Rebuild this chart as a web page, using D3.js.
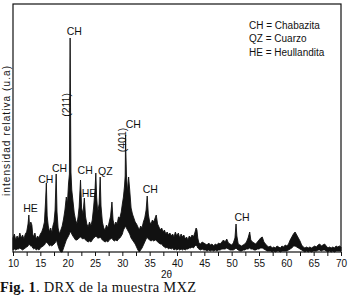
<!DOCTYPE html>
<html>
<head>
<meta charset="utf-8">
<script src="https://cdn.jsdelivr.net/npm/d3@7"></script>
<style>
  body { margin: 0; background: #fff; }
  svg { display: block; }
  .lbl { font-family: "Liberation Sans", Arial, sans-serif; font-size: 10.5px; fill: #111; }
  .tick-lbl { font-family: "Liberation Sans", Arial, sans-serif; font-size: 10px; fill: #111; }
  .cap { font-family: "Liberation Serif", "Times New Roman", serif; font-size: 14.5px; fill: #111; }
</style>
</head>
<body>
<svg id="chart"></svg>
<script>
// ── Data: XRD pattern (2θ, upper / lower edge of noisy trace) ──
const twoTheta = [
  10.0, 10.25, 10.5, 10.75, 11.0, 11.25, 11.5, 11.75, 12.0, 12.25, 12.5, 12.75, 12.9, 13.05, 13.25, 13.45,
  13.6, 13.8, 14.0, 14.25, 14.5, 14.75, 15.0, 15.25, 15.5, 15.75, 15.95, 16.1, 16.25, 16.45, 16.7, 16.9,
  17.1, 17.3, 17.5, 17.7, 17.9, 18.05, 18.25, 18.5, 18.75, 19.0, 19.25, 19.5, 19.75, 19.95, 20.15, 20.32,
  20.42, 20.45, 20.48, 20.6, 20.75, 20.95, 21.2, 21.45, 21.7, 21.9, 22.1, 22.35, 22.55, 22.8, 23.05, 23.25,
  23.5, 23.75, 24.0, 24.25, 24.5, 24.75, 25.0, 25.15, 25.3, 25.5, 25.75, 25.95, 26.1, 26.35, 26.6, 26.85,
  27.1, 27.35, 27.6, 27.85, 28.1, 28.3, 28.55, 28.8, 29.05, 29.3, 29.55, 29.8, 30.0, 30.2, 30.4, 30.52,
  30.58, 30.6, 30.63, 30.75, 30.95, 31.15, 31.35, 31.6, 31.85, 32.1, 32.35, 32.6, 32.85, 33.1, 33.35, 33.6,
  33.85, 34.1, 34.35, 34.55, 34.75, 35.0, 35.25, 35.5, 35.75, 36.0, 36.2, 36.45, 36.7, 36.95, 37.2, 37.45,
  37.7, 37.95, 38.2, 38.45, 38.7, 38.95, 39.2, 39.45, 39.7, 39.95, 40.25, 40.5, 40.75, 41.0, 41.25, 41.5,
  41.75, 42.0, 42.25, 42.5, 42.75, 43.0, 43.25, 43.5, 43.65, 43.8, 44.0, 44.3, 44.6, 44.9, 45.2, 45.5,
  45.8, 46.1, 46.4, 46.7, 47.0, 47.3, 47.6, 47.9, 48.2, 48.5, 48.8, 49.1, 49.4, 49.7, 50.0, 50.3,
  50.6, 50.8, 50.95, 51.2, 51.5, 51.8, 52.1, 52.4, 52.7, 53.0, 53.3, 53.5, 53.8, 54.1, 54.4, 54.7,
  55.0, 55.3, 55.6, 55.9, 56.2, 56.5, 56.8, 57.1, 57.4, 57.7, 58.0, 58.3, 58.6, 58.9, 59.2, 59.5,
  59.8, 60.1, 60.4, 60.7, 61.0, 61.3, 61.6, 61.9, 62.2, 62.5, 62.8, 63.1, 63.4, 63.7, 64.0, 64.3,
  64.6, 64.9, 65.2, 65.5, 65.8, 66.1, 66.4, 66.7, 67.0, 67.3, 67.6, 67.9, 68.2, 68.5, 68.8, 69.1,
  69.4, 69.7, 70.0
];
const upper = [
  14, 18, 12, 16, 13, 19, 14, 17, 13, 18, 20, 28, 37, 24, 30, 27,
  18, 15, 19, 13, 16, 14, 18, 20, 24, 30, 50, 69, 36, 26, 20, 24,
  19, 26, 30, 42, 78, 40, 24, 18, 22, 26, 33, 42, 55, 48, 68, 78,
  190, 214, 188, 80, 62, 52, 39, 32, 28, 35, 45, 72, 44, 38, 54, 36,
  28, 25, 30, 26, 32, 45, 62, 79, 55, 40, 48, 75, 46, 30, 24, 22,
  27, 24, 30, 36, 50, 32, 26, 30, 28, 35, 34, 40, 48, 55, 66, 76,
  108, 117, 104, 78, 60, 75, 62, 44, 38, 34, 30, 28, 25, 22, 26, 24,
  30, 34, 42, 56, 38, 30, 28, 32, 30, 34, 37, 28, 25, 22, 24, 20,
  22, 18, 20, 17, 19, 16, 18, 15, 20, 16, 19, 14, 18, 15, 17, 13,
  15, 12, 16, 14, 17, 15, 19, 24, 22, 14, 9, 8, 10, 9, 8, 7,
  9, 7, 8, 6, 8, 7, 9, 8, 10, 12, 10, 13, 9, 8, 7, 9,
  14, 28, 16, 8, 7, 6, 7, 8, 10, 14, 20, 12, 10, 9, 8, 10,
  12, 14, 15, 10, 8, 6, 5, 6, 4, 5, 4, 6, 5, 4, 6, 5,
  7, 6, 8, 12, 15, 18, 20, 17, 14, 11, 7, 5, 4, 5, 4, 5,
  4, 5, 6, 5, 7, 8, 6, 7, 8, 6, 4, 5, 4, 5, 4, 6,
  5, 6, 5
];
const lower = [
  2, 3, 2, 3, 3, 4, 3, 2, 3, 4, 5, 6, 8, 7, 6, 6,
  4, 3, 4, 2, 3, 2, 4, 5, 6, 7, 9, 10, 9, 8, 6, 7,
  6, 7, 8, 9, 12, 10, 6, 2, 0, 0, 4, 8, 12, 14, 16, 18,
  20, 20, 20, 20, 18, 16, 14, 12, 12, 13, 14, 15, 14, 13, 14, 12,
  11, 10, 11, 10, 12, 14, 15, 16, 15, 14, 14, 15, 14, 12, 11, 10,
  11, 10, 12, 13, 14, 12, 11, 12, 11, 13, 14, 16, 18, 22, 24, 25,
  26, 26, 26, 24, 22, 20, 18, 14, 12, 10, 8, 5, 2, 0, 2, 4,
  7, 10, 13, 15, 13, 12, 11, 12, 11, 12, 12, 10, 9, 8, 8, 6,
  5, 4, 5, 3, 4, 3, 4, 2, 3, 2, 3, 2, 3, 2, 3, 2,
  3, 3, 4, 4, 5, 4, 6, 7, 6, 4, 3, 2, 3, 2, 2, 1,
  2, 1, 2, 1, 2, 1, 2, 2, 3, 3, 3, 4, 3, 2, 2, 2,
  3, 4, 3, 2, 1, 1, 2, 2, 3, 3, 4, 3, 3, 2, 2, 3,
  3, 4, 4, 3, 2, 1, 1, 1, 0, 1, 0, 1, 1, 0, 1, 1,
  1, 1, 2, 3, 4, 6, 6, 5, 4, 3, 2, 1, 0, 1, 0, 1,
  0, 1, 1, 1, 2, 2, 1, 2, 2, 1, 0, 1, 0, 1, 0, 1,
  1, 1, 1
];

// ── Peak annotations (phase label, 2θ, intensity at text baseline) ────────────
const peakText  = ["HE", "CH", "CH", "CH", "CH", "HE", "QZ", "CH", "CH", "CH"];
const peakTheta = [13.2, 16.0, 18.5, 21.2, 23.2, 23.9, 26.9, 32.0, 35.1, 51.9];
const peakInt   = [40.5, 69.5, 80, 217, 78, 55, 77, 124, 59, 31];

// Miller indices written vertically next to the two strongest peaks
const hklText  = ["(211)", "(401)"];
const hklTheta = [19.7, 30.0];
const hklInt   = [147, 112];

const legendLines = ["CH = Chabazita", "QZ = Cuarzo", "HE = Heullandita"];
const xTickLabels = [10, 15, 20, 25, 30, 35, 40, 45, 50, 55, 60, 65, 70];
const xMinorTicks = [12.5, 17.5, 22.5, 27.5, 32.5, 37.5, 42.5, 47.5, 52.5, 57.5, 62.5, 67.5];

// ── Layout ───────────────────────────────────────────────────────────────────
const W = 350, H = 305;
const M = { left: 13, right: 9, top: 4, bottom: 53 };
const svg = d3.select("#chart").attr("width", W).attr("height", H);

const x = d3.scaleLinear().domain([10, 70]).range([M.left, W - M.right]);
const y = d3.scaleLinear().domain([0, 248]).range([H - M.bottom, M.top]);

const rows = twoTheta.map((t, i) => ({ t, hi: upper[i], lo: lower[i] }));

// ── Peak labels (drawn first, the trace runs over them as in the original) ────
svg.append("g").selectAll("text")
  .data(peakText)
  .join("text")
  .attr("class", "lbl")
  .attr("x", (d, i) => x(peakTheta[i]))
  .attr("y", (d, i) => y(peakInt[i]))
  .attr("text-anchor", "middle")
  .text(d => d);

svg.append("g").selectAll("text")
  .data(hklText)
  .join("text")
  .attr("class", "lbl")
  .attr("transform", (d, i) => `translate(${x(hklTheta[i]) + 4},${y(hklInt[i])}) rotate(-90)`)
  .attr("text-anchor", "middle")
  .text(d => d);

// ── Trace ────────────────────────────────────────────────────────────────────
const band = d3.area()
  .x(d => x(d.t))
  .y0(d => y(d.lo))
  .y1(d => y(d.hi));

svg.append("path")
  .datum(rows)
  .attr("d", band)
  .attr("fill", "#111")
  .attr("stroke", "#111")
  .attr("stroke-width", 0.9)
  .attr("stroke-linejoin", "round");

// ── Frame + x axis ───────────────────────────────────────────────────────────
svg.append("rect")
  .attr("x", M.left).attr("y", M.top)
  .attr("width", W - M.left - M.right)
  .attr("height", H - M.top - M.bottom)
  .attr("fill", "none")
  .attr("stroke", "#111")
  .attr("stroke-width", 1.2);

const xAxis = svg.append("g")
  .attr("transform", `translate(0,${H - M.bottom})`)
  .call(d3.axisBottom(x)
    .tickValues(xTickLabels.concat(xMinorTicks))
    .tickSize(4)
    .tickFormat(d => xTickLabels.includes(d) ? d : ""));
xAxis.select(".domain").remove();
xAxis.selectAll(".tick line").attr("stroke", "#111").attr("stroke-width", 1);
xAxis.selectAll(".tick text")
  .attr("class", "tick-lbl")
  .attr("y", 8)
  .attr("font-family", null)
  .attr("font-size", null);

svg.append("text")
  .attr("class", "tick-lbl")
  .attr("x", x(38.1))
  .attr("y", H - 27)
  .attr("text-anchor", "middle")
  .text("2θ");

// ── Y label ──────────────────────────────────────────────────────────────────
svg.append("text")
  .attr("class", "tick-lbl")
  .attr("font-size", "10.5px")
  .attr("transform", `translate(10,${y(121)}) rotate(-90)`)
  .attr("text-anchor", "middle")
  .attr("textLength", 130)
  .attr("lengthAdjust", "spacing")
  .text("intensidad relativa (u.a)");

// ── Legend ───────────────────────────────────────────────────────────────────
svg.append("g").selectAll("text")
  .data(legendLines)
  .join("text")
  .attr("class", "tick-lbl")
  .attr("x", 249)
  .attr("y", (d, i) => 28.5 + i * 13.5)
  .text(d => d);

// ── Caption ──────────────────────────────────────────────────────────────────
const cap = svg.append("text").attr("class", "cap").attr("x", 0).attr("y", 292)
  .attr("textLength", 196).attr("lengthAdjust", "spacing");
cap.append("tspan").attr("font-weight", "bold").text("Fig. 1");
cap.append("tspan").text(". DRX de la muestra MXZ");
</script>
</body>
</html>
